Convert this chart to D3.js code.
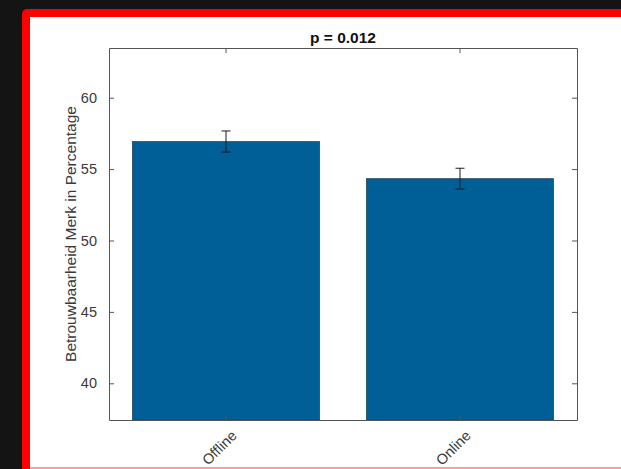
<!DOCTYPE html>
<html>
<head>
<meta charset="utf-8">
<script src="https://cdn.jsdelivr.net/npm/d3@7"></script>
<style>
  html, body { margin: 0; padding: 0; background: #141414; }
  svg { display: block; }
  text { font-family: "Liberation Sans", Arial, Helvetica, sans-serif; }
</style>
</head>
<body>
<svg id="chart" width="621" height="469"></svg>
<script>
// Bar chart data: mean trust score per channel, with standard error
const categories = ["Offline", "Online"];
const means = [56.93, 54.33];
const errors = [0.74, 0.73];
const yTicks = [40, 45, 50, 55, 60];
const yDomain = [37.43, 63.48];
const titleText = "p = 0.012";
const yLabelText = "Betrouwbaarheid Merk in Percentage";

const svg = d3.select("#chart");

// Framed figure panel
svg.append("rect").attr("x", 22).attr("y", 9).attr("width", 640).attr("height", 500)
  .attr("rx", 5).attr("fill", "#ff0000");
svg.append("rect").attr("x", 30).attr("y", 17).attr("width", 620).attr("height", 450)
  .attr("fill", "#ffffff");
svg.append("rect").attr("x", 30).attr("y", 467).attr("width", 620).attr("height", 2)
  .attr("fill", "#ff9c9c");

const plot = { left: 109, right: 577, top: 48, bottom: 420 };

const x = d3.scaleBand()
  .domain(categories)
  .range([plot.left, plot.right])
  .paddingInner(0.2)
  .paddingOuter(0.1);

const y = d3.scaleLinear()
  .domain(yDomain)
  .range([plot.bottom, plot.top]);

const axisColor = "#555555";
const textColor = "#3a3a3a";

// Bars
svg.append("g").selectAll("rect")
  .data(categories)
  .join("rect")
  .attr("x", d => x(d))
  .attr("width", x.bandwidth())
  .attr("y", (d, i) => y(means[i]))
  .attr("height", (d, i) => y(yDomain[0]) - y(means[i]))
  .attr("fill", "#005f97")
  .attr("stroke", "#1d3f58")
  .attr("stroke-width", 0.7);

// Error bars
const eb = svg.append("g").attr("stroke", "#1b1b1b").attr("stroke-width", 1).attr("fill", "none");
categories.forEach((c, i) => {
  const cx = x(c) + x.bandwidth() / 2;
  const hi = y(means[i] + errors[i]);
  const lo = y(means[i] - errors[i]);
  eb.append("line").attr("x1", cx).attr("x2", cx).attr("y1", hi).attr("y2", lo);
  eb.append("line").attr("x1", cx - 4.5).attr("x2", cx + 4.5).attr("y1", hi).attr("y2", hi);
  eb.append("line").attr("x1", cx - 4.5).attr("x2", cx + 4.5).attr("y1", lo).attr("y2", lo);
});

// Axes box with inward ticks
const tickLen = 5;
const leftAxis = d3.axisLeft(y).tickValues(yTicks).tickSizeInner(-tickLen).tickSizeOuter(0).tickPadding(7 + tickLen);
const rightAxis = d3.axisRight(y).tickValues(yTicks).tickSizeInner(-tickLen).tickSizeOuter(0).tickFormat("");
const bottomAxis = d3.axisBottom(x).tickSizeInner(-tickLen).tickSizeOuter(0).tickFormat("");
const topAxis = d3.axisTop(x).tickSizeInner(-tickLen).tickSizeOuter(0).tickFormat("");

function styleAxis(g) {
  g.selectAll("path, line").attr("stroke", axisColor).attr("stroke-width", 1);
  g.selectAll("text").attr("fill", textColor).attr("font-size", 14.5)
    .attr("font-family", "'Liberation Sans', Arial, sans-serif");
}

svg.append("g").attr("transform", `translate(${plot.left},0)`).call(leftAxis).call(styleAxis);
svg.append("g").attr("transform", `translate(${plot.right},0)`).call(rightAxis).call(styleAxis);
svg.append("g").attr("transform", `translate(0,${plot.bottom})`).call(bottomAxis).call(styleAxis);
svg.append("g").attr("transform", `translate(0,${plot.top})`).call(topAxis).call(styleAxis);

// Rotated category labels
svg.append("g").selectAll("text")
  .data(categories)
  .join("text")
  .attr("transform", d => `translate(${x(d) + x.bandwidth() / 2 + 8},${plot.bottom + 13}) rotate(-45)`)
  .attr("text-anchor", "end")
  .attr("dy", "0.35em")
  .attr("font-size", 14.5)
  .attr("fill", textColor)
  .text(d => d);

// Title
svg.append("text")
  .attr("x", (plot.left + plot.right) / 2)
  .attr("y", 43)
  .attr("text-anchor", "middle")
  .attr("font-size", 15.5)
  .attr("font-weight", "bold")
  .attr("fill", "#111111")
  .text(titleText);

// Y-axis label
svg.append("text")
  .attr("transform", `translate(76,${(plot.top + plot.bottom) / 2}) rotate(-90)`)
  .attr("text-anchor", "middle")
  .attr("font-size", 15.5)
  .attr("fill", textColor)
  .text(yLabelText);
</script>
</body>
</html>
